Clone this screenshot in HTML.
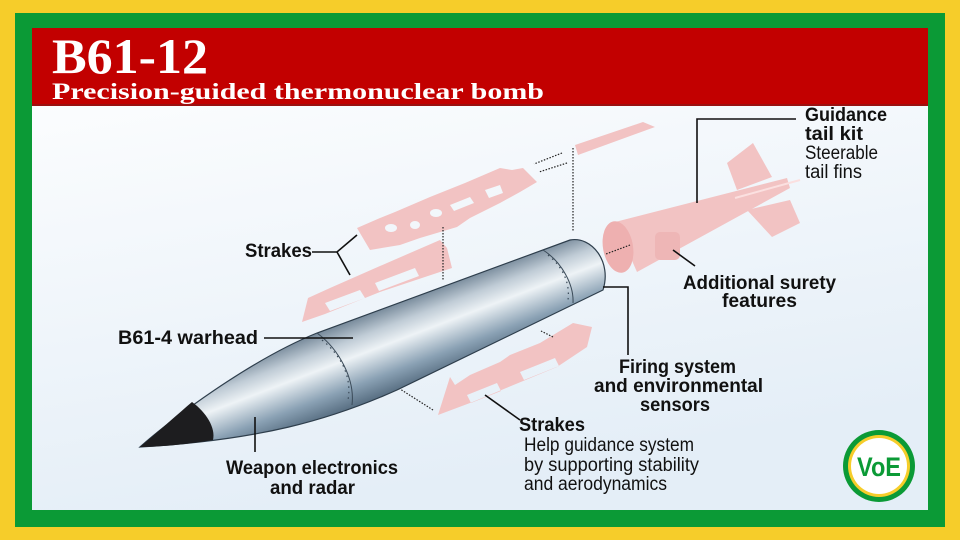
<!DOCTYPE html>
<html><head><meta charset="utf-8"><style>
html,body{margin:0;padding:0;width:960px;height:540px;overflow:hidden;background:#f6cd2a}
svg{display:block}
.b{font-family:"Liberation Sans",sans-serif;font-weight:bold;font-size:19px;fill:#111}
.r{font-family:"Liberation Sans",sans-serif;font-size:19px;fill:#111}
.s{font-family:"Liberation Serif",serif;font-weight:bold;fill:#fff}
</style></head><body>
<svg width="960" height="540" viewBox="0 0 960 540">
<defs>
<linearGradient id="bg" x1="0" y1="0" x2="0.3" y2="1">
<stop offset="0" stop-color="#ffffff"/><stop offset="1" stop-color="#e4eef7"/></linearGradient>
<linearGradient id="bm" gradientUnits="userSpaceOnUse" x1="440" y1="280" x2="475" y2="372">
<stop offset="0" stop-color="#5f7487"/><stop offset="0.25" stop-color="#c0ccd6"/><stop offset="0.42" stop-color="#eef3f6"/><stop offset="0.7" stop-color="#8aa1b4"/><stop offset="1" stop-color="#3e5468"/></linearGradient>
</defs>
<rect x="0" y="0" width="960" height="540" fill="#f6cd2a"/>
<rect x="15" y="13" width="930" height="514" fill="#0b9a36"/>
<rect x="32" y="28" width="896" height="482" fill="url(#bg)"/>
<rect x="32" y="28" width="896" height="78" fill="#c20000"/>
<rect x="32" y="104" width="896" height="2" fill="#9b1010"/>
<text class="s" x="52" y="73" font-size="50" textLength="156" lengthAdjust="spacingAndGlyphs">B61-12</text>
<text class="s" x="52" y="99" font-size="23" textLength="492" lengthAdjust="spacingAndGlyphs">Precision-guided thermonuclear bomb</text>

<g fill="#f2c3c3">
<polygon points="575,145 643,122 655,127 578,155"/>
<path fill-rule="evenodd" d="M357,228 L380,218 L395,212 L430,197 L465,183 L500,168 L512,170 L523,168 L530,175 L537,182 L520,192 L500,203 L470,218 L457,227 L420,238 L400,245 L370,250 Z M385,228 a6,4 0 1 0 12,0 a6,4 0 1 0 -12,0 Z M410,225 a5,4 0 1 0 10,0 a5,4 0 1 0 -10,0Z M430,213 a6,4 0 1 0 12,0 a6,4 0 1 0 -12,0Z M450,205 l20,-8 l4,6 l-20,8Z M485,190 l15,-5 l3,8 l-14,5Z"/>
<path fill-rule="evenodd" d="M302,322 L308,298 L330,288 L380,266 L440,240 L447,248 L452,268 L380,292 L325,314 Z M325,303 l35,-13 l5,8 l-35,13Z M375,283 l40,-15 l4,8 l-40,15Z"/>
<path fill-rule="evenodd" d="M438,415 L450,377 L455,385 L470,375 L500,362 L510,355 L540,343 L573,323 L592,327 L587,347 L557,367 L470,403 Z M467,395 l30,-12 l4,8 l-30,12Z M520,372 l35,-14 l4,8 l-35,14Z"/>
<polygon points="727,163 753,143 772,177 737,190"/>
<polygon points="747,210 790,200 800,223 772,237"/>
<path d="M615,222 L787,178 L790,188 L637,272 Z"/>
<ellipse cx="618" cy="247" rx="15" ry="26" transform="rotate(-10 618 247)" fill="#eeb0b0"/>
<rect x="655" y="232" width="25" height="28" rx="5" fill="#eeb6b6"/>
<line x1="735" y1="198" x2="800" y2="180" stroke="#fbe0e0" stroke-width="2"/>
</g>

<path d="M140,447 C170,420 250,360 317,333 L570,240 C592,236 612,262 603,290 L397,390 C330,420 260,440 140,447 Z" fill="url(#bm)" stroke="#2e3e4c" stroke-width="1.2"/>
<path d="M140,447 C160,430 178,414 192,402 C206,412 216,428 213,440 C190,444 160,447 140,447Z" fill="#1d1d1f"/>
<path d="M317,333 C340,350 355,380 352,405" fill="none" stroke="#3a4a58" stroke-width="1"/>
<path d="M543,250 C562,262 574,285 573,303" fill="none" stroke="#3a4a58" stroke-width="1"/>
<path d="M322,340 C342,356 352,378 348,400" fill="none" stroke="#3a4a58" stroke-width="1.2" stroke-dasharray="1.5 4"/>
<path d="M548,255 C564,268 570,284 568,300" fill="none" stroke="#3a4a58" stroke-width="1.2" stroke-dasharray="1.5 4"/>

<g stroke="#222" stroke-width="1.2" stroke-dasharray="1.5 1.5" fill="none">
<line x1="573" y1="148" x2="573" y2="232"/>
<line x1="443" y1="227" x2="443" y2="280"/>
<line x1="562" y1="153" x2="534" y2="164"/>
<line x1="567" y1="163" x2="539" y2="172"/>
<line x1="630" y1="245" x2="606" y2="254"/>
<line x1="433" y1="410" x2="400" y2="389"/>
<line x1="553" y1="337" x2="541" y2="331"/>
</g>
<g stroke="#111" stroke-width="1.6" fill="none">
<polyline points="312,252 337,252 357,235"/>
<line x1="337" y1="252" x2="350" y2="275"/>
<line x1="264" y1="338" x2="353" y2="338"/>
<line x1="255" y1="417" x2="255" y2="452"/>
<line x1="485" y1="395" x2="520" y2="420"/>
<polyline points="603,287 628,287 628,355"/>
<line x1="673" y1="250" x2="695" y2="266"/>
<polyline points="697,203 697,119 796,119"/>
</g>

<text class="b" x="245" y="257" textLength="67" lengthAdjust="spacingAndGlyphs">Strakes</text>
<text class="b" x="118" y="344" textLength="140" lengthAdjust="spacingAndGlyphs">B61-4 warhead</text>
<text class="b" x="226" y="474" textLength="172" lengthAdjust="spacingAndGlyphs">Weapon electronics</text>
<text class="b" x="270" y="494" textLength="85" lengthAdjust="spacingAndGlyphs">and radar</text>
<text class="b" x="519" y="431" textLength="66" lengthAdjust="spacingAndGlyphs">Strakes</text>
<text class="r" x="524" y="451" textLength="170" lengthAdjust="spacingAndGlyphs">Help guidance system</text>
<text class="r" x="524" y="471" textLength="175" lengthAdjust="spacingAndGlyphs">by supporting stability</text>
<text class="r" x="524" y="490" textLength="143" lengthAdjust="spacingAndGlyphs">and aerodynamics</text>
<text class="b" x="619" y="373" textLength="117" lengthAdjust="spacingAndGlyphs">Firing system</text>
<text class="b" x="594" y="392" textLength="169" lengthAdjust="spacingAndGlyphs">and environmental</text>
<text class="b" x="640" y="411" textLength="70" lengthAdjust="spacingAndGlyphs">sensors</text>
<text class="b" x="683" y="289" textLength="153" lengthAdjust="spacingAndGlyphs">Additional surety</text>
<text class="b" x="722" y="307" textLength="75" lengthAdjust="spacingAndGlyphs">features</text>
<text class="b" x="805" y="121" textLength="82" lengthAdjust="spacingAndGlyphs">Guidance</text>
<text class="b" x="805" y="140" textLength="58" lengthAdjust="spacingAndGlyphs">tail kit</text>
<text class="r" x="805" y="159" textLength="73" lengthAdjust="spacingAndGlyphs">Steerable</text>
<text class="r" x="805" y="178" textLength="57" lengthAdjust="spacingAndGlyphs">tail fins</text>

<circle cx="879" cy="466" r="36" fill="#0b9a36"/>
<circle cx="879" cy="466" r="31" fill="#f6cd2a"/>
<circle cx="879" cy="466" r="28" fill="#fff"/>
<text x="879" y="476" text-anchor="middle" font-family="Liberation Sans,sans-serif" font-weight="bold" font-size="27" fill="#0b9a36" textLength="44" lengthAdjust="spacingAndGlyphs">VoE</text>
</svg>
</body></html>
